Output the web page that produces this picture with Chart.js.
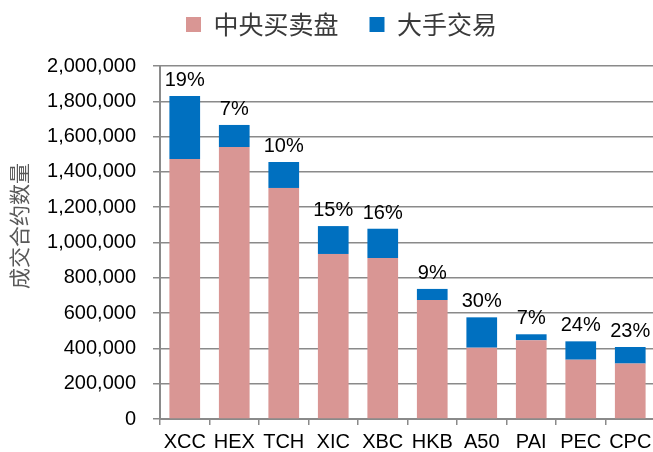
<!DOCTYPE html>
<html>
<head>
<meta charset="utf-8">
<script src="https://cdn.jsdelivr.net/npm/chart.js@4.4.1/dist/chart.umd.min.js"></script>
<style>
  html, body { margin: 0; padding: 0; background: #fff; overflow: hidden; }
  #wrap { width: 657px; height: 452px; }
</style>
</head>
<body>
<div id="wrap"><canvas id="myChart"></canvas></div>
<script>
  const categories = ['XCC', 'HEX', 'TCH', 'XIC', 'XBC', 'HKB', 'A50', 'PAI', 'PEC', 'CPC'];
  const centralValues = [1473000, 1541000, 1309000, 935000, 912000, 674000, 404000, 446000, 336000, 314000];
  const blockValues = [357000, 125000, 147000, 158000, 166000, 63000, 172000, 34000, 104000, 94000];
  const pctLabels = ['19%', '7%', '10%', '15%', '16%', '9%', '30%', '7%', '24%', '23%'];
  const seriesNames = ['中央买卖盘', '大手交易'];
  const yTitle = '成交合约数量';

  const gridColor = '#8a8a8a';
  const latin = '"Liberation Sans", Arial, sans-serif';
  const cjk = '"Noto Sans CJK SC", sans-serif';

  // legend: fixed height, moved up and to the left edge used in the picture
  const legendFix = {
    id: 'legendFix',
    beforeInit(chart) {
      const fit = chart.legend.fit;
      chart.legend.fit = function () {
        fit.bind(chart.legend)();
        this.height = 62;
      };
    },
    afterLayout(chart) {
      const lg = chart.legend;
      const p = lg.options.labels.padding;
      const start = (lg.left + p + lg.right - lg.lineWidths[0]) / 2;
      const dx = 186 - start;
      lg.left += dx;
      lg.right += dx;
      lg.top = 12 - p;
    }
  };

  // percent above each stack + rotated y title
  const extras = {
    id: 'extras',
    afterDatasetsDraw(chart) {
      const c = chart.ctx;
      const meta = chart.getDatasetMeta(1);
      c.save();
      c.font = '20px ' + latin;
      c.fillStyle = '#000';
      c.textAlign = 'center';
      c.textBaseline = 'alphabetic';
      meta.data.forEach((bar, i) => {
        c.fillText(pctLabels[i], bar.x, bar.y - 10);
      });
      c.translate(19, 226);
      c.rotate(-Math.PI / 2);
      c.font = '21px ' + cjk;
      c.fillStyle = '#595959';
      c.textBaseline = 'middle';
      c.fillText(yTitle, 0, 0);
      c.restore();
    }
  };

  const ctx = document.getElementById('myChart');
  new Chart(ctx, {
    type: 'bar',
    data: {
      labels: categories,
      datasets: [{
        label: seriesNames[0],
        data: centralValues,
        backgroundColor: '#D99694',
        barPercentage: 0.62,
        categoryPercentage: 1
      }, {
        label: seriesNames[1],
        data: blockValues,
        backgroundColor: '#0070C0',
        barPercentage: 0.62,
        categoryPercentage: 1
      }]
    },
    plugins: [legendFix, extras],
    options: {
      responsive: true,
      maintainAspectRatio: false,
      animation: false,
      layout: { padding: { top: 4, right: 2, left: 4, bottom: 0 } },
      plugins: {
        tooltip: { enabled: false },
        legend: {
          position: 'top',
          labels: {
            boxWidth: 15,
            boxHeight: 15,
            padding: 31,
            color: '#3a3a3a',
            font: { size: 25, family: cjk }
          }
        }
      },
      scales: {
        x: {
          stacked: true,
          afterFit(scale) { scale.height = 33; },
          grid: {
            offset: true,
            drawOnChartArea: false,
            drawTicks: true,
            tickLength: 6,
            color: gridColor,
            lineWidth: 1.5
          },
          border: { color: gridColor, width: 2 },
          ticks: {
            color: '#000',
            padding: 5,
            font: { size: 20, family: latin }
          }
        },
        y: {
          stacked: true,
          min: 0,
          max: 2000000,
          afterFit(scale) { scale.width = 156; },
          grid: {
            color: gridColor,
            lineWidth: 1.5,
            drawTicks: true,
            tickLength: 7
          },
          border: { color: gridColor, width: 2 },
          ticks: {
            stepSize: 200000,
            color: '#000',
            padding: 17,
            font: { size: 20, family: latin },
            callback: v => v.toLocaleString('en-US')
          }
        }
      }
    }
  });
</script>
</body>
</html>
